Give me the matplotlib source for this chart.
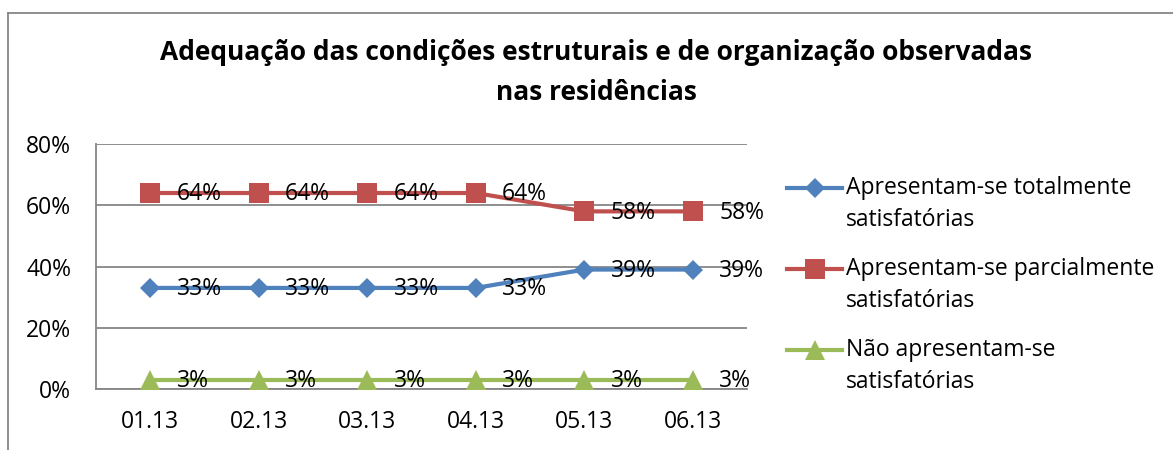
import matplotlib.pyplot as plt
from matplotlib.lines import Line2D
from matplotlib.ticker import FuncFormatter

plt.rcParams['font.family'] = ['Open Sans', 'DejaVu Sans']

months = ["01.13", "02.13", "03.13", "04.13", "05.13", "06.13"]
totalmente = [33, 33, 33, 33, 39, 39]
parcialmente = [64, 64, 64, 64, 58, 58]
nao = [3, 3, 3, 3, 3, 3]
series_names = [("Apresentam-se totalmente", "satisfatórias"),
                ("Apresentam-se parcialmente", "satisfatórias"),
                ("Não apresentam-se", "satisfatórias")]

colors = ["#4F81BD", "#C0504D", "#9BBB59"]
markers = ["D", "s", "^"]
msizes = [10.5, 14, 14]
grid_color = "#868686"
W, H = 1173, 450
fs = 16.5

fig = plt.figure(figsize=(W / 100, H / 100), dpi=100)
ax = fig.add_axes([96 / W, 1 - 389 / H, 651 / W, 245 / H])

x = list(range(len(months)))
for vals, c, m, ms in zip([totalmente, parcialmente, nao], colors, markers, msizes):
    ax.plot(x, vals, color=c, lw=3, marker=m, markersize=ms, mew=0, zorder=3)
    for xi, v in zip(x, vals):
        ax.annotate(f"{v}%", (xi, v), xytext=(19, -1), textcoords="offset points",
                    ha="left", va="center", fontsize=fs, zorder=4)

ax.set_xlim(-0.5, 5.5)
ax.set_ylim(0, 80)
ax.set_yticks([0, 20, 40, 60, 80])
ax.yaxis.set_major_formatter(FuncFormatter(lambda v, p: f"{v:.0f}%"))
ax.set_xticks(x)
ax.set_xticklabels(months)
ax.tick_params(axis="both", length=0, labelsize=fs)
ax.tick_params(axis="x", pad=15)
ax.tick_params(axis="y", pad=18)
ax.grid(axis="y", color=grid_color, lw=1.3, zorder=1)
for side in ["top", "right"]:
    ax.spines[side].set_visible(False)
for side in ["left", "bottom"]:
    ax.spines[side].set_color(grid_color)
    ax.spines[side].set_linewidth(1.3)

# title, two centred lines
fig.text(596 / W, 1 - 53 / H, "Adequação das condições estruturais e de organização observadas",
         ha="center", va="center", fontsize=19, fontweight="bold")
fig.text(596 / W, 1 - 93 / H, "nas residências",
         ha="center", va="center", fontsize=19, fontweight="bold")

# legend drawn by hand so the handle sits on the first text line
legend_y = [188, 269, 350]
for (l1, l2), c, m, ms, ly in zip(series_names, colors, markers, msizes, legend_y):
    yf = 1 - ly / H
    fig.add_artist(Line2D([787 / W, 842 / W], [yf, yf], color=c, lw=3,
                          transform=fig.transFigure))
    fig.add_artist(Line2D([814.5 / W], [yf], color=c, marker=m, markersize=ms, mew=0,
                          transform=fig.transFigure))
    fig.text(846 / W, yf, l1, ha="left", va="center", fontsize=fs)
    fig.text(846 / W, 1 - (ly + 32) / H, l2, ha="left", va="center", fontsize=fs)

# chart frame
fig.add_artist(Line2D([7.5 / W, 7.5 / W], [0, 1 - 12.5 / H], color=grid_color, lw=1.3,
                      transform=fig.transFigure))
fig.add_artist(Line2D([7.5 / W, 1], [1 - 12.5 / H, 1 - 12.5 / H], color=grid_color, lw=1.3,
                      transform=fig.transFigure))

fig.savefig("out.png", dpi=100)
